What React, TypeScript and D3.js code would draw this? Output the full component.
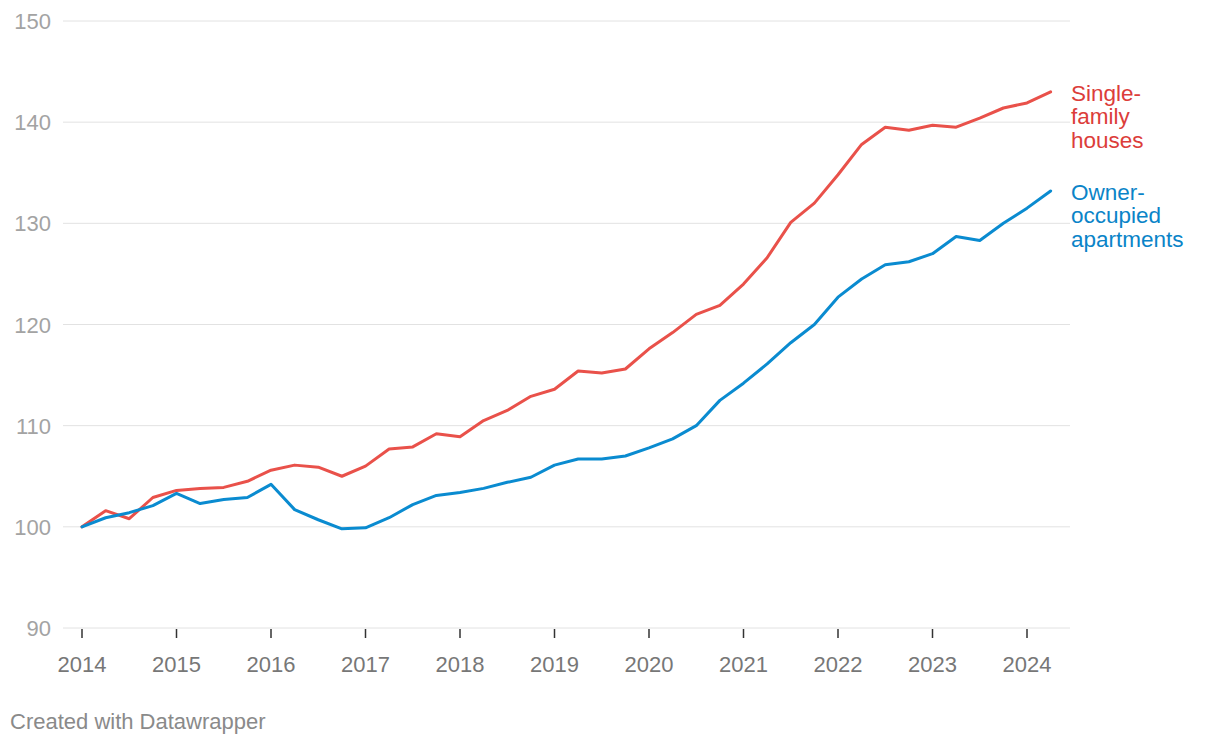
import { useEffect, useRef } from 'react';
import * as d3 from 'd3';

// quarterly index, 2014 Q1 = 100
const quarters: number[] = d3.range(0, 42).map(i => 2014 + i * 0.25);

const singleFamily = [
  100, 101.6, 100.8, 102.9, 103.6, 103.8, 103.9, 104.5, 105.6, 106.1,
  105.9, 105.0, 106.0, 107.7, 107.9, 109.2, 108.9, 110.5, 111.5, 112.9,
  113.6, 115.4, 115.2, 115.6, 117.6, 119.2, 121.0, 121.9, 124.0, 126.6,
  130.1, 132.0, 134.8, 137.8, 139.5, 139.2, 139.7, 139.5, 140.4, 141.4,
  141.9, 143.0,
];

const apartments = [
  100, 100.9, 101.4, 102.1, 103.3, 102.3, 102.7, 102.9, 104.2, 101.7,
  100.7, 99.8, 99.9, 100.9, 102.2, 103.1, 103.4, 103.8, 104.4, 104.9,
  106.1, 106.7, 106.7, 107.0, 107.8, 108.7, 110.0, 112.5, 114.2, 116.1,
  118.2, 120.0, 122.7, 124.5, 125.9, 126.2, 127.0, 128.7, 128.3, 130.0,
  131.5, 133.2,
];

const yTicks = [90, 100, 110, 120, 130, 140, 150];
const xTicks = d3.range(2014, 2025);

const seriesLabels = [
  { lines: ['Single-', 'family', 'houses'], values: singleFamily, line: '#e9514a', text: '#dc3d3a' },
  { lines: ['Owner-', 'occupied', 'apartments'], values: apartments, line: '#0a8bd0', text: '#0a84c8' },
];

export default function App() {
  const svgRef = useRef<SVGSVGElement>(null);

  useEffect(() => {
    if (!svgRef.current) return;
    const width = 1220;
    const height = 746;
    const font = '"Liberation Sans", Arial, Helvetica, sans-serif';

    const svg = d3.select(svgRef.current);
    svg.selectAll('*').remove();

    const x = d3.scaleLinear().domain([2014, 2024]).range([82, 1027]);
    const y = d3.scaleLinear().domain([90, 150]).range([628, 21]);

    // grid
    const grid = svg.append('g');
    grid.selectAll('line')
      .data(yTicks)
      .join('line')
      .attr('x1', 63).attr('x2', 1070)
      .attr('y1', d => y(d)).attr('y2', d => y(d))
      .attr('stroke', '#e2e2e2').attr('stroke-width', 1);

    grid.selectAll('text')
      .data(yTicks)
      .join('text')
      .attr('x', 51)
      .attr('y', d => y(d) + 8)
      .attr('text-anchor', 'end')
      .style('font-family', font)
      .style('font-size', '22px')
      .style('fill', '#a3a3a3')
      .text(d => d);

    // x axis ticks
    const xa = svg.append('g');
    xa.selectAll('line')
      .data(xTicks)
      .join('line')
      .attr('x1', d => x(d)).attr('x2', d => x(d))
      .attr('y1', 629).attr('y2', 638)
      .attr('stroke', '#333').attr('stroke-width', 1.5);

    xa.selectAll('text')
      .data(xTicks)
      .join('text')
      .attr('x', d => x(d))
      .attr('y', 672)
      .attr('text-anchor', 'middle')
      .style('font-family', font)
      .style('font-size', '22px')
      .style('fill', '#777')
      .text(d => d);

    // lines
    const line = d3.line<number>()
      .x((_, i) => x(quarters[i]))
      .y(d => y(d));

    seriesLabels.forEach(s => {
      svg.append('path')
        .attr('d', line(s.values))
        .attr('fill', 'none')
        .attr('stroke', s.line)
        .attr('stroke-width', 3)
        .attr('stroke-linejoin', 'round')
        .attr('stroke-linecap', 'round');

      const last = s.values[s.values.length - 1];
      const t = svg.append('text')
        .attr('x', 1071)
        .attr('y', y(last) + 9)
        .style('font-family', font)
        .style('font-size', '22.5px')
        .style('fill', s.text);
      s.lines.forEach((l, i) => {
        t.append('tspan')
          .attr('x', 1071)
          .attr('dy', i === 0 ? 0 : 23.5)
          .text(l);
      });
    });

    svg.append('text')
      .attr('x', 10)
      .attr('y', 729)
      .style('font-family', font)
      .style('font-size', '22px')
      .style('fill', '#8a8a8a')
      .text('Created with Datawrapper');

    svg.attr('width', width).attr('height', height);
  }, []);

  return (
    <div style={{ position: 'absolute', left: 0, top: 0, background: '#fff' }}>
      <svg ref={svgRef} width={1220} height={746} style={{ display: 'block' }}></svg>
    </div>
  );
}
